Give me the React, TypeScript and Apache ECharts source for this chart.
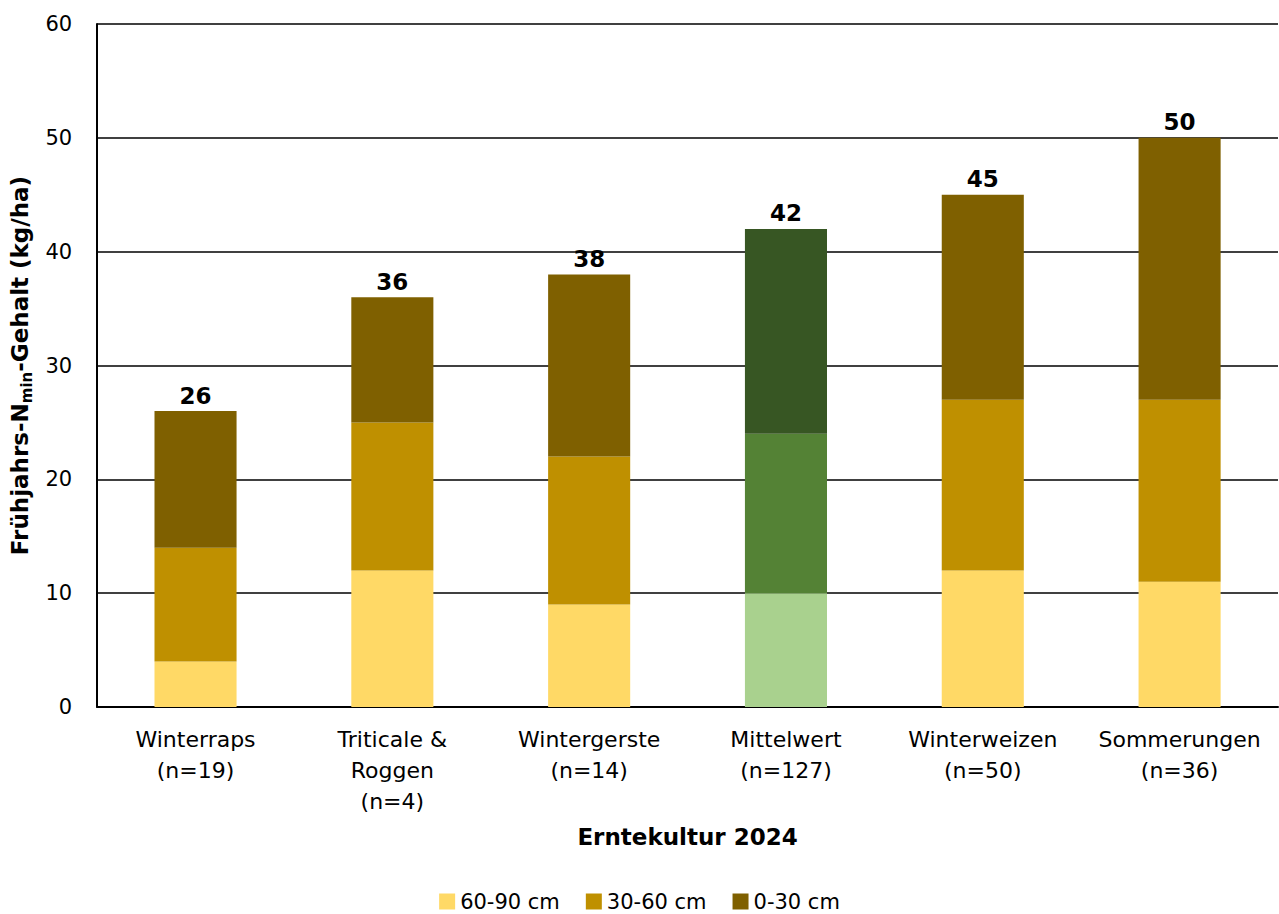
import React, { useEffect, useRef } from "react";
import * as echarts from "echarts";

const categories = [
  "Winterraps\n(n=19)",
  "Triticale &\nRoggen\n(n=4)",
  "Wintergerste\n(n=14)",
  "Mittelwert\n(n=127)",
  "Winterweizen\n(n=50)",
  "Sommerungen\n(n=36)",
];
const seriesNames = ["60-90 cm", "30-60 cm", "0-30 cm"];
const depth60to90 = [4, 12, 9, 10, 12, 11];
const depth30to60 = [10, 13, 13, 14, 15, 16];
const depth0to30 = [12, 11, 16, 18, 18, 23];
const goldColors = ["#FFD966", "#BF9000", "#7F6000"];
const greenColors = ["#A9D18E", "#548235", "#375623"];
const highlightIndex = 3;
const yTicks = { min: 0, max: 60, interval: 10 };

const FONT = "DejaVu Sans";

export default function App() {
  const ref = useRef<HTMLDivElement>(null);
  useEffect(() => {
    document.body.style.margin = "0";
    if (!ref.current) return;
    const chart = echarts.init(ref.current, undefined, { renderer: "svg" });
    const stacks = [depth60to90, depth30to60, depth0to30];
    const totals = categories.map((_, i) => stacks.reduce((s, a) => s + a[i], 0));
    const series = stacks.map((vals, si) => ({
      name: seriesNames[si],
      type: "bar",
      stack: "total",
      barWidth: "41.7%",
      itemStyle: { color: goldColors[si] },
      data: vals.map((v, i) =>
        i === highlightIndex ? { value: v, itemStyle: { color: greenColors[si] } } : v
      ),
      label:
        si === stacks.length - 1
          ? {
              show: true,
              position: "top",
              distance: 4,
              formatter: (p: any) => String(totals[p.dataIndex]),
              fontFamily: FONT,
              fontWeight: "bold",
              fontSize: 23,
              color: "#000",
            }
          : { show: false },
    }));
    chart.setOption({
      animation: false,
      textStyle: { fontFamily: FONT },
      grid: { left: 97, right: 1, top: 24, bottom: 207, containLabel: false },
      legend: {
        data: seriesNames,
        top: 891,
        left: "center",
        padding: 0,
        itemWidth: 16,
        itemHeight: 16,
        itemGap: 26,
        icon: "rect",
        textStyle: { fontFamily: FONT, fontSize: 21, color: "#000", lineHeight: 21 },
      },
      xAxis: {
        type: "category",
        data: categories,
        name: "Erntekultur 2024",
        nameLocation: "middle",
        nameGap: 118,
        nameTextStyle: { fontFamily: FONT, fontWeight: "bold", fontSize: 23, color: "#000", verticalAlign: "top" },
        axisLine: { lineStyle: { color: "#000", width: 2 } },
        axisTick: { show: false },
        axisLabel: { fontFamily: FONT, fontSize: 22, color: "#000", lineHeight: 31, margin: 17, interval: 0 },
      },
      yAxis: {
        type: "value",
        min: yTicks.min,
        max: yTicks.max,
        interval: yTicks.interval,
        name: "{b|Frühjahrs-N}{s|min}{b|-Gehalt (kg/ha)}",
        nameLocation: "middle",
        nameRotate: 90,
        nameGap: 62,
        nameTextStyle: {
          rich: {
            b: { fontFamily: FONT, fontWeight: "bold", fontSize: 23, color: "#000", lineHeight: 30, verticalAlign: "middle" },
            s: { fontFamily: FONT, fontWeight: "bold", fontSize: 15, color: "#000", lineHeight: 30, verticalAlign: "bottom", padding: [11, 0, 0, 0] },
          },
        },
        axisLine: { show: true, lineStyle: { color: "#000", width: 2 } },
        axisTick: { show: false },
        splitLine: { lineStyle: { color: "#000", width: 1.5 } },
        axisLabel: { fontFamily: FONT, fontSize: 21, color: "#000", margin: 25 },
      },
      series,
    });
    return () => chart.dispose();
  }, []);
  return <div ref={ref} style={{ width: 1279, height: 914 }} />;
}
